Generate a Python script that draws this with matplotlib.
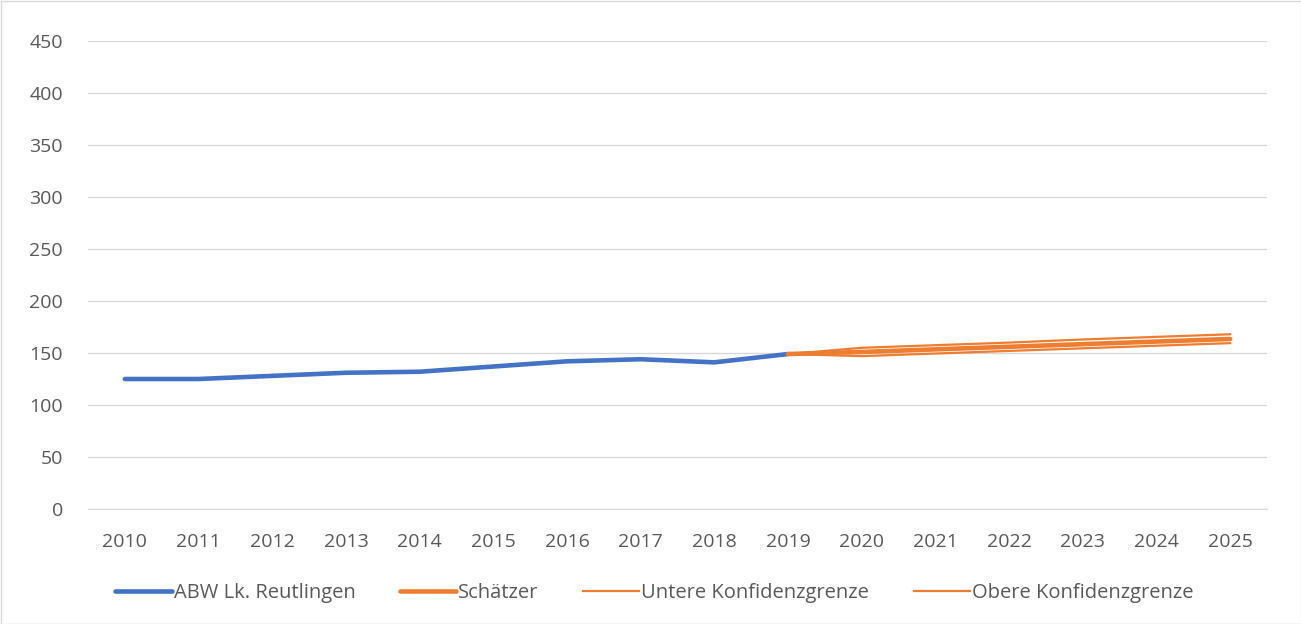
import matplotlib.pyplot as plt

years = [str(y) for y in range(2010, 2026)]
abw = [125, 125, 128, 131, 132, 137, 142, 144, 141, 149]
forecast_years = years[9:]
schaetzer = [149, 151, 153.5, 156, 158.5, 161, 163.5]
untere = [149, 147, 149.5, 152, 154.5, 157, 159.5]
obere = [149, 155, 157.5, 160, 163, 165.5, 168]

blue = '#4472C4'
orange = '#ED7D31'
text_col = '#595959'

plt.rcParams['font.family'] = ['Open Sans', 'DejaVu Sans']

fig = plt.figure(figsize=(13.01, 6.24), dpi=100)
ax = fig.add_axes([88 / 1301, 1 - 509 / 624, (1267 - 88) / 1301, (509 - 41) / 624])

x_all = list(range(len(years)))
x_fc = x_all[9:]

ax.plot(x_all[:len(abw)], abw, color=blue, lw=3.3, solid_capstyle='round',
        label='ABW Lk. Reutlingen', zorder=3)
ax.plot(x_fc, schaetzer, color=orange, lw=3.3, solid_capstyle='round',
        label='Schätzer', zorder=4)
ax.plot(x_fc, untere, color=orange, lw=1.6, label='Untere Konfidenzgrenze', zorder=4)
ax.plot(x_fc, obere, color=orange, lw=1.6, label='Obere Konfidenzgrenze', zorder=4)

ax.set_xlim(-0.5, len(years) - 0.5)
ax.set_ylim(0, 450)
ax.set_yticks(range(0, 451, 50))
ax.set_xticks(x_all)
ax.set_xticklabels(years)
ax.grid(axis='y', color='#D9D9D9', lw=1)
ax.set_axisbelow(True)
for s in ['top', 'right', 'left']:
    ax.spines[s].set_visible(False)
ax.spines['bottom'].set_color('#D9D9D9')
ax.tick_params(length=0, labelsize=14, colors=text_col)
ax.tick_params(axis='x', pad=17)
ax.tick_params(axis='y', pad=18)

fig.legend(loc='center', bbox_to_anchor=(0.503, 1 - 593 / 624), ncol=4,
           frameon=False, fontsize=14.5, labelcolor=text_col,
           handlelength=2.8, handletextpad=0.1, columnspacing=2.2)

fig.patches.append(plt.Rectangle((0.5 / 1301, 0.5 / 624), 1 - 1 / 1301, 1 - 1 / 624,
                                 transform=fig.transFigure, fill=False,
                                 edgecolor='#D9D9D9', lw=1))

fig.savefig('out.png', dpi=100)
